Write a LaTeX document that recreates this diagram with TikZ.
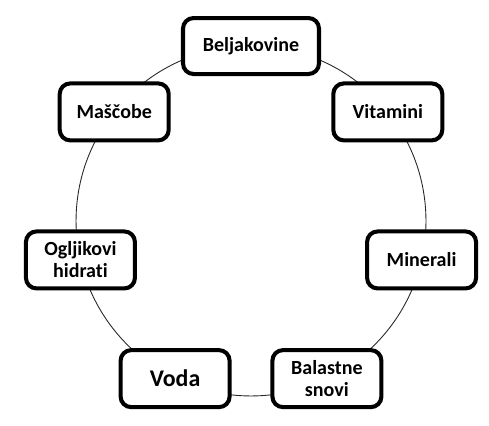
\documentclass[tikz,border=0pt]{standalone}
\usepackage{fontspec}
\setmainfont{Carlito}[Ligatures=NoCommon]
\usetikzlibrary{positioning, calc}
\tikzset{
  food/.style={rectangle, draw=black, line width=2.3pt, rounded corners=6pt,
               minimum width=#1, minimum height=1.14cm, inner sep=2pt,
               align=center, fill=white,
               font=\bfseries\fontsize{11.4}{12.6}\selectfont},
  food/.default=2.18cm,
  ring/.style={draw=black!85, line width=0.5pt},
}
\begin{document}
\begin{tikzpicture}[x=0.02cm, y=0.02cm]
\useasboundingbox (0,0) rectangle (489,425);

% ── krog ─────────────────────────────────────────────────────────────
\coordinate (c) at (251,204);
\draw[ring] (c) circle (3.5cm);

% ── hranila ──────────────────────────────────────────────────────────
\node[food=2.72cm, minimum height=1.12cm] (belj) at ($(c)+(90:3.5cm)$) {Beljakovine};
\node[food] (vit)  at ($(c)+(38.57:3.5cm)$)   {Vitamini};
\node[food] (min)  at ($(c)+(-12.86:3.5cm)$)  {Minerali};
\node[food] (bal)  at ($(c)+(-64.29:3.5cm)$)  {Balastne\\snovi};
\node[food, font=\bfseries\fontsize{13.6}{15}\selectfont] (voda)
  at ($(c)+(-115.71:3.5cm)$) {Voda};
\node[food] (ogl)  at ($(c)+(192.86:3.5cm)$)  {Ogljikovi\\hidrati};
\node[food] (mas)  at ($(c)+(141.43:3.5cm)$)  {Maščobe};

\end{tikzpicture}
\end{document}
